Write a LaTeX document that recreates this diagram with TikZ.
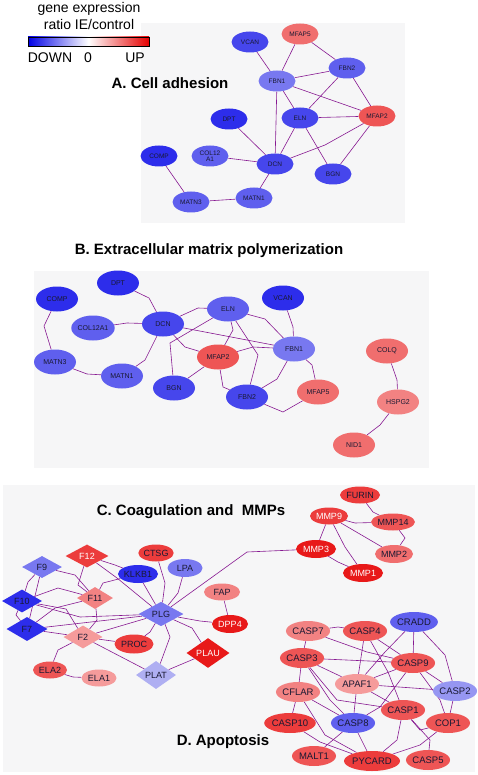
\documentclass[tikz,border=0pt]{standalone}
\usepackage{fontspec}
\setmainfont{Liberation Sans}
\usetikzlibrary{shapes.geometric}
\pgfdeclarelayer{back}
\pgfdeclarelayer{edges}
\pgfsetlayers{back,edges,main}
\definecolor{bgc}{RGB}{246,246,247}
\definecolor{edgec}{RGB}{135,25,145}
\definecolor{bA}{RGB}{45,45,235}
\definecolor{bB}{RGB}{70,70,236}
\definecolor{bC}{RGB}{95,95,238}
\definecolor{bD}{RGB}{120,120,240}
\definecolor{bE}{RGB}{150,150,242}
\definecolor{bF}{RGB}{175,175,242}
\definecolor{rA}{RGB}{232,25,25}
\definecolor{rB}{RGB}{236,60,60}
\definecolor{rC}{RGB}{238,85,85}
\definecolor{rD}{RGB}{240,110,110}
\definecolor{rE}{RGB}{242,130,130}
\definecolor{rF}{RGB}{245,155,155}
\definecolor{txt}{RGB}{25,25,50}
\tikzset{
  ea/.style={ellipse, minimum width=37pt, minimum height=21pt, inner sep=0pt, text=txt, font=\fontsize{6.5}{7}\selectfont},
  eb/.style={ellipse, minimum width=42pt, minimum height=25pt, inner sep=0pt, text=txt, font=\fontsize{7}{8}\selectfont},
  ec/.style={ellipse, minimum width=38pt, minimum height=18pt, inner sep=0pt, text=txt, font=\fontsize{9}{10}\selectfont},
  ed/.style={ellipse, minimum width=44pt, minimum height=20pt, inner sep=0pt, text=txt, font=\fontsize{9.5}{10}\selectfont},
  dm/.style={diamond, minimum width=41pt, minimum height=23pt, inner sep=0pt, text=txt, font=\fontsize{9}{10}\selectfont},
  wt/.style={text=white},
  lk/.style={draw=edgec, line width=0.6pt},
  ttl/.style={font=\bfseries\fontsize{15}{17}\selectfont, text=black},
  leg/.style={font=\fontsize{14}{16}\selectfont, text=black},
  panel/.style={fill=bgc, draw=none}
}
\begin{document}
\begin{tikzpicture}[x=1pt,y=-1pt]
\useasboundingbox (0,0) rectangle (478,775);
% panels
\begin{pgfonlayer}{back}
\fill[white] (0,0) rectangle (478,775);
\fill[panel] (141,23) rectangle (405,223);
\fill[panel] (34,271) rectangle (429,468);
\fill[panel] (3,485) rectangle (475,772);
\end{pgfonlayer}
% legend
\node[leg] (leg1) at (89,9) {gene expression};
\node[leg] (leg2) at (89,25) {ratio IE/control};
\shade[left color=blue!90!black, right color=red!90!black, middle color=white] (28,37) rectangle (149,46);
\draw[black, line width=0.5pt] (28,37) rectangle (149,46);
\node[leg] (legdown) at (50,58) {DOWN};
\node[leg] (legzero) at (88,58) {0};
\node[leg] (legup) at (135,58) {UP};
% titles
\node[ttl] (tA) at (170,83) {A. Cell adhesion};
\node[ttl] (tB) at (209,251) {B. Extracellular matrix polymerization};
\node[ttl] (tC) at (191,512) {C. Coagulation and\ \ MMPs};
\node[ttl] (tD) at (223,742) {D. Apoptosis};
% ---------------- Panel A
\node[ea,fill=bB] (aVCAN) at (250,42) {VCAN};
\node[ea,fill=rD] (aMFAP5) at (300,34) {MFAP5};
\node[ea,fill=bC] (aFBN2) at (347,68) {FBN2};
\node[ea,fill=bD] (aFBN1) at (277,81) {FBN1};
\node[ea,fill=rC] (aMFAP2) at (377,116) {MFAP2};
\node[ea,fill=bB] (aELN) at (300,118) {ELN};
\node[ea,fill=bA] (aDPT) at (229,119) {DPT};
\node[ea,fill=bC,align=center,font=\fontsize{6.5}{6.5}\selectfont] (aCOL) at (210,156) {COL12\\A1};
\node[ea,fill=bA] (aCOMP) at (159,156) {COMP};
\node[ea,fill=bB] (aDCN) at (275,164) {DCN};
\node[ea,fill=bB] (aBGN) at (333,174) {BGN};
\node[ea,fill=bC] (aMATN3) at (191,202) {MATN3};
\node[ea,fill=bC] (aMATN1) at (254,198) {MATN1};
\begin{pgfonlayer}{edges}
\draw[lk] (aVCAN) -- (aFBN1);
\draw[lk] (aMFAP5) -- (aFBN1);
\draw[lk] (aMFAP5) -- (aFBN2);
\draw[lk] (aFBN1) -- (aFBN2);
\draw[lk] (aFBN2) -- (aELN);
\draw[lk] (aFBN2) -- (aMFAP2);
\draw[lk] (aFBN1) -- (aMFAP2);
\draw[lk] (aFBN1) -- (aELN);
\draw[lk] (aFBN1) -- (aDCN);
\draw[lk] (aELN) -- (aMFAP2);
\draw[lk] (aELN) -- (aDCN);
\draw[lk] (aELN) -- (aBGN);
\draw[lk] (aDCN) -- (325,145) -- (aMFAP2);
\draw[lk] (aMFAP2) -- (aBGN);
\draw[lk] (aDPT) -- (aDCN);
\draw[lk] (aCOL) -- (aDCN);
\draw[lk] (aDCN) -- (aMATN1);
\draw[lk] (aCOMP) -- (aMATN3);
\draw[lk] (aMATN3) -- (aMATN1);
\end{pgfonlayer}
% ---------------- Panel B
\node[eb,fill=bA] (bDPT) at (118,283) {DPT};
\node[eb,fill=bA] (bCOMP) at (57,299) {COMP};
\node[eb,fill=bC] (bCOL) at (93,328) {COL12A1};
\node[eb,fill=bB] (bDCN) at (163,324) {DCN};
\node[eb,fill=bC] (bELN) at (228,309) {ELN};
\node[eb,fill=bA] (bVCAN) at (283,298) {VCAN};
\node[eb,fill=bD] (bFBN1) at (294,349) {FBN1};
\node[eb,fill=rC] (bMFAP2) at (218,357) {MFAP2};
\node[eb,fill=bC] (bMATN3) at (55,362) {MATN3};
\node[eb,fill=bC] (bMATN1) at (122,376) {MATN1};
\node[eb,fill=bB] (bBGN) at (174,388) {BGN};
\node[eb,fill=bB] (bFBN2) at (247,397) {FBN2};
\node[eb,fill=rD] (bMFAP5) at (318,392) {MFAP5};
\node[eb,fill=rD] (bCOLQ) at (387,351) {COLQ};
\node[eb,fill=rE] (bHSPG2) at (398,402) {HSPG2};
\node[eb,fill=rD] (bNID1) at (354,445) {NID1};
\begin{pgfonlayer}{edges}
\draw[lk] (bCOMP) -- (44,326) -- (bMATN3);
\draw[lk] (bDPT) -- (149,298) -- (bDCN);
\draw[lk] (bCOL) -- (127,323) -- (bDCN);
\draw[lk] (bDCN) -- (198,308) -- (bELN);
\draw[lk] (bDCN) -- (185,347) -- (bMFAP2);
\draw[lk] (bDCN) -- (bFBN1);
\draw[lk] (bDCN) -- (145,360) -- (bMATN1);
\draw[lk] (bMATN3) -- (87,374) -- (bMATN1);
\draw[lk] (bELN) -- (170,343) -- (bBGN);
\draw[lk] (bELN) -- (233,330) -- (bMFAP2);
\draw[lk] (bELN) -- (258,355) -- (bFBN2);
\draw[lk] (bELN) -- (265,319) -- (bFBN1);
\draw[lk] (bVCAN) -- (293,327) -- (bFBN1);
\draw[lk] (bMFAP2) -- (253,347) -- (bFBN1);
\draw[lk] (bMFAP2) -- (bBGN);
\draw[lk] (bMFAP2) -- (223,387) -- (bFBN2);
\draw[lk] (bFBN1) -- (277,379) -- (bFBN2);
\draw[lk] (bFBN2) -- (283,412) -- (bMFAP5);
\draw[lk] (bFBN1) -- (312,365) -- (bMFAP5);
\draw[lk] (bCOLQ) -- (397,380) -- (bHSPG2);
\draw[lk] (bHSPG2) -- (380,425) -- (bNID1);
\end{pgfonlayer}
% ---------------- Panel C
\node[dm,fill=rB,wt,minimum width=43pt] (F12) at (87,556) {F12};
\node[ec,fill=rB,minimum width=34pt,minimum height=17pt] (CTSG) at (156,553) {CTSG};
\node[dm,fill=bD,minimum width=40pt,minimum height=22pt] (F9) at (42,567) {F9};
\node[ec,fill=bA,minimum width=40pt] (KLKB1) at (138,574) {KLKB1};
\node[ec,fill=bD,minimum width=35pt] (LPA) at (185,568) {LPA};
\node[dm,fill=bA,minimum width=40pt] (F10) at (22,601) {F10};
\node[dm,fill=rE,minimum width=36pt,minimum height=22pt] (F11) at (95,598) {F11};
\node[ec,fill=rE,minimum width=36pt,minimum height=17pt] (FAP) at (222,592) {FAP};
\node[dm,fill=bD,minimum width=45pt,minimum height=24pt] (PLG) at (161,614) {PLG};
\node[ec,fill=rA,wt,minimum width=36pt,minimum height=18pt] (DPP4) at (230,624) {DPP4};
\node[dm,fill=bA,minimum width=41pt,minimum height=24pt] (F7) at (27,629) {F7};
\node[dm,fill=rF,minimum width=39pt,minimum height=23pt] (F2) at (83,637) {F2};
\node[ec,fill=rB,minimum width=39pt,minimum height=19pt] (PROC) at (134,644) {PROC};
\node[dm,fill=rA,wt,minimum width=43pt,minimum height=22pt] (PLAU) at (208,653) {PLAU};
\node[ec,fill=rC,minimum width=34pt,minimum height=17pt] (ELA2) at (50,670) {ELA2};
\node[ec,fill=rF,minimum width=35pt,minimum height=17pt] (ELA1) at (99,678) {ELA1};
\node[dm,fill=bF,minimum width=40pt,minimum height=21pt] (PLAT) at (156,675) {PLAT};
\node[ec,fill=rB,minimum width=40pt,minimum height=17pt] (FURIN) at (360,495) {FURIN};
\node[ec,fill=rB,wt,minimum width=38pt,minimum height=17pt] (MMP9) at (329,516) {MMP9};
\node[ec,fill=rC,minimum width=43pt,minimum height=17pt] (MMP14) at (393,522) {MMP14};
\node[ec,fill=rA,wt,minimum width=40pt,minimum height=18pt] (MMP3) at (316,549) {MMP3};
\node[ec,fill=rD,minimum width=38pt,minimum height=18pt] (MMP2) at (394,554) {MMP2};
\node[ec,fill=rA,wt,minimum width=40pt,minimum height=18pt] (MMP1) at (363,573) {MMP1};
\begin{pgfonlayer}{edges}
\draw[lk] (F12) -- (115,565) -- (KLKB1);
\draw[lk] (F12) -- (78,585) -- (F11);
\draw[lk] (F12) -- (117,578) -- (PLG);
\draw[lk] (F9) -- (28,582) -- (F10);
\draw[lk] (F9) -- (F7);
\draw[lk] (F9) -- (75,575) -- (F11);
\draw[lk] (F10) -- (58,588) -- (F11);
\draw[lk] (F10) -- (16,615) -- (F7);
\draw[lk] (F10) -- (66,609) -- (F2);
\draw[lk] (F10) -- (80,617) -- (PLG);
\draw[lk] (F7) -- (55,608) -- (F11);
\draw[lk] (F7) -- (47,627) -- (PLG);
\draw[lk] (F7) -- (F2);
\draw[lk] (F11) -- (97,620) -- (F2);
\draw[lk] (F11) -- (103,583) -- (KLKB1);
\draw[lk] (KLKB1) -- (PLG);
\draw[lk] (CTSG) -- (165,583) -- (PLG);
\draw[lk] (LPA) -- (178,593) -- (PLG);
\draw[lk] (PLG) -- (247,552) -- (MMP3);
\draw[lk] (PLG) -- (200,621) -- (DPP4);
\draw[lk] (FAP) -- (DPP4);
\draw[lk] (PLG) -- (192,628) -- (PLAU);
\draw[lk] (PLG) -- (170,637) -- (PLAT);
\draw[lk] (PLG) -- (150,632) -- (PROC);
\draw[lk] (PLAT) -- (PLAU);
\draw[lk] (F2) -- (PLG);
\draw[lk] (F2) -- (58,650) -- (ELA2);
\draw[lk] (ELA2) -- (73,677) -- (ELA1);
\draw[lk] (F2) -- (PROC);
\draw[lk] (F2) -- (PLAT);
\draw[lk] (FURIN) -- (373,512) -- (MMP14);
\draw[lk] (MMP9) -- (355,523) -- (MMP14);
\draw[lk] (MMP9) -- (MMP2);
\draw[lk] (MMP9) -- (MMP3);
\draw[lk] (MMP9) -- (345,547) -- (MMP1);
\draw[lk] (MMP14) -- (405,538) -- (MMP2);
\draw[lk] (MMP3) -- (338,562) -- (MMP1);
\end{pgfonlayer}
% ---------------- Panel D
\node[ed,fill=rE] (CASP7) at (308,631) {CASP7};
\node[ed,fill=rC] (CASP4) at (365,631) {CASP4};
\node[ed,fill=bC] (CRADD) at (414,622) {CRADD};
\node[ed,fill=rC] (CASP3) at (302,658) {CASP3};
\node[ed,fill=rC] (CASP9) at (413,663) {CASP9};
\node[ed,fill=rF] (APAF1) at (357,684) {APAF1};
\node[ed,fill=rE] (CFLAR) at (298,692) {CFLAR};
\node[ed,fill=bE] (CASP2) at (455,691) {CASP2};
\node[ed,fill=rC] (CASP1) at (403,710) {CASP1};
\node[ed,fill=rB,minimum width=48pt] (CASP10) at (290,723) {CASP10};
\node[ed,fill=bC] (CASP8) at (353,723) {CASP8};
\node[ed,fill=rC] (COP1) at (448,723) {COP1};
\node[ed,fill=rC] (MALT1) at (314,756) {MALT1};
\node[ed,fill=rB,minimum width=52pt] (PYCARD) at (372,761) {PYCARD};
\node[ed,fill=rC] (CASP5) at (428,760) {CASP5};
\begin{pgfonlayer}{edges}
\draw[lk] (CASP7) -- (338,627) -- (CASP4);
\draw[lk] (CASP7) -- (CASP3);
\draw[lk] (CASP7) -- (367,652) -- (CASP9);
\draw[lk] (CASP4) -- (APAF1);
\draw[lk] (CASP4) -- (CASP9);
\draw[lk] (CASP4) -- (388,672) -- (CASP1);
\draw[lk] (CRADD) -- (385,652) -- (APAF1);
\draw[lk] (CRADD) -- (CASP9);
\draw[lk] (CRADD) -- (445,655) -- (CASP2);
\draw[lk] (CASP3) -- (CASP9);
\draw[lk] (CASP3) -- (APAF1);
\draw[lk] (CASP3) -- (CFLAR);
\draw[lk] (CASP3) -- (330,700) -- (CASP8);
\draw[lk] (CASP3) -- (337,700) -- (CASP1);
\draw[lk] (APAF1) -- (CASP9);
\draw[lk] (APAF1) -- (CASP2);
\draw[lk] (APAF1) -- (CASP1);
\draw[lk] (APAF1) -- (CASP8);
\draw[lk] (CASP9) -- (380,707) -- (CASP8);
\draw[lk] (CASP9) -- (CASP2);
\draw[lk] (CASP9) -- (440,700) -- (COP1);
\draw[lk] (CASP2) -- (COP1);
\draw[lk] (CFLAR) -- (CASP10);
\draw[lk] (CFLAR) -- (CASP8);
\draw[lk] (CFLAR) -- (325,735) -- (PYCARD);
\draw[lk] (CASP10) -- (320,742) -- (PYCARD);
\draw[lk] (CASP8) -- (MALT1);
\draw[lk] (CASP8) -- (PYCARD);
\draw[lk] (CASP1) -- (397,740) -- (PYCARD);
\draw[lk] (CASP1) -- (430,740) -- (CASP5);
\draw[lk] (CASP1) -- (420,730) -- (COP1);
\draw[lk] (COP1) -- (420,745) -- (PYCARD);
\end{pgfonlayer}
\end{tikzpicture}
\end{document}
